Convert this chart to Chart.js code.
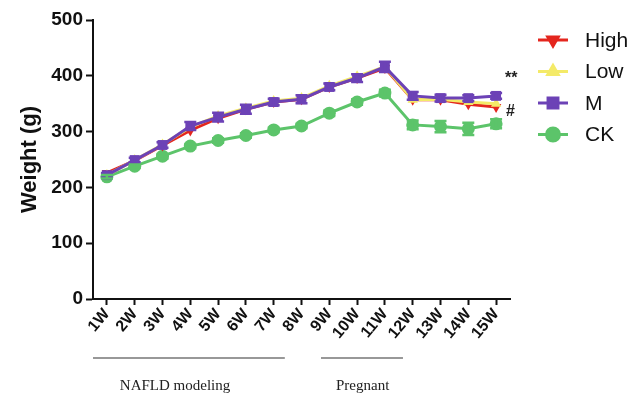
<!DOCTYPE html>
<html>
<head>
<meta charset="utf-8">
<script src="https://cdn.jsdelivr.net/npm/chart.js@4.4.1/dist/chart.umd.min.js"></script>
<style>
  html, body { margin: 0; padding: 0; background: #fff; }
  #wrap { position: relative; width: 637px; height: 395px; }
</style>
</head>
<body>
<div id="wrap"><canvas id="weight"></canvas></div>
<script>
/*_____________________DATA____________________*/

const weeks = ['1W', '2W', '3W', '4W', '5W', '6W', '7W', '8W',
               '9W', '10W', '11W', '12W', '13W', '14W', '15W'];

const high = [226, 248, 275, 302, 324, 340, 353, 358, 380, 396, 414, 357, 357, 349, 344];
const low  = [222, 249, 277, 308, 328, 342, 355, 360, 382, 399, 416, 357, 358, 353, 350];
const m    = [222, 249, 276, 310, 326, 340, 353, 358, 380, 396, 416, 364, 360, 360, 364];
const ck   = [219, 238, 256, 274, 284, 293, 303, 310, 333, 353, 369, 312, 309, 305, 314];

const m_err  = [4, 4, 5, 7, 8, 8, 6, 7, 6, 7, 9, 7, 6, 5, 5];
const ck_err = [3, 3, 4, 4, 4, 4, 4, 4, 5, 5, 6, 8, 10, 11, 8];

const yTicks = [0, 100, 200, 300, 400, 500];

/*_____________________PLUGINS____________________*/

// vertical error bars with caps
const errorBars = {
  id: 'errorBars',
  afterDatasetsDraw(chart) {
    const ctx = chart.ctx;
    const y = chart.scales.y;
    chart.data.datasets.forEach((ds, i) => {
      if (!ds.err) return;
      const meta = chart.getDatasetMeta(i);
      ctx.save();
      ctx.strokeStyle = ds.borderColor;
      ctx.lineWidth = 2.5;
      meta.data.forEach((pt, j) => {
        const top = y.getPixelForValue(ds.data[j] + ds.err[j]);
        const bot = y.getPixelForValue(ds.data[j] - ds.err[j]);
        ctx.beginPath();
        ctx.moveTo(pt.x, top); ctx.lineTo(pt.x, bot);
        ctx.moveTo(pt.x - 6, top); ctx.lineTo(pt.x + 6, top);
        ctx.moveTo(pt.x - 6, bot); ctx.lineTo(pt.x + 6, bot);
        ctx.stroke();
      });
      ctx.restore();
    });
  }
};

// legend on the right, line + marker like the original
const sideLegend = {
  id: 'sideLegend',
  afterDraw(chart) {
    const ctx = chart.ctx;
    const x0 = chart.chartArea.right + 28;
    const y0 = 40;
    chart.data.datasets.forEach((ds, i) => {
      const yy = y0 + i * 31.5;
      ctx.save();
      ctx.strokeStyle = ds.borderColor;
      ctx.lineWidth = 3;
      ctx.beginPath();
      ctx.moveTo(x0, yy); ctx.lineTo(x0 + 30, yy);
      ctx.stroke();
      Chart.helpers.drawPoint(ctx, {
        pointStyle: ds.pointStyle,
        radius: ds.pointRadius,
        rotation: ds.pointRotation || 0,
        borderWidth: 1
      }, x0 + 15, yy);
      ctx.fillStyle = ds.backgroundColor;
      ctx.fill();
      ctx.fillStyle = '#111';
      ctx.font = '21px "Liberation Sans", Arial, sans-serif';
      ctx.textBaseline = 'middle';
      ctx.fillText(ds.label, x0 + 47, yy + 1);
      ctx.restore();
    });
  }
};

// significance marks and period brackets under the x axis
const notes = {
  id: 'notes',
  afterDraw(chart) {
    const ctx = chart.ctx;
    const x = chart.scales.x;
    const y = chart.scales.y;
    const last = weeks.length - 1;
    ctx.save();
    ctx.fillStyle = '#222';
    ctx.font = 'bold 16px "Liberation Sans", Arial, sans-serif';
    ctx.textAlign = 'left';
    ctx.textBaseline = 'middle';
    ctx.fillText('**', x.getPixelForValue(last) + 9, y.getPixelForValue(395));
    ctx.fillText('#', x.getPixelForValue(last) + 10, y.getPixelForValue(336));

    const lineY = 358;
    ctx.strokeStyle = '#333';
    ctx.lineWidth = 1.2;
    ctx.beginPath();
    ctx.moveTo(x.getPixelForValue(-0.5), lineY); ctx.lineTo(x.getPixelForValue(6.4), lineY);
    ctx.moveTo(x.getPixelForValue(7.7), lineY); ctx.lineTo(x.getPixelForValue(10.65), lineY);
    ctx.stroke();

    ctx.font = '15px "Liberation Serif", "Times New Roman", serif';
    ctx.textAlign = 'center';
    ctx.fillText('NAFLD modeling', x.getPixelForValue(2.45), 386);
    ctx.fillText('Pregnant', x.getPixelForValue(9.2), 386);
    ctx.restore();
  }
};

/*_____________________CHART____________________*/

const weight = document.getElementById('weight');
const weight_setup = {
  labels: weeks,
  datasets: [
    {
      label: 'High',
      data: high,
      borderColor: 'rgb(228, 38, 30)',
      backgroundColor: 'rgb(228, 38, 30)',
      pointStyle: 'triangle',
      pointRotation: 180,
      pointRadius: 6,
      order: 3
    },
    {
      label: 'Low',
      data: low,
      borderColor: 'rgb(244, 234, 104)',
      backgroundColor: 'rgb(244, 234, 104)',
      pointStyle: 'triangle',
      pointRadius: 6,
      order: 2
    },
    {
      label: 'M',
      data: m,
      err: m_err,
      borderColor: 'rgb(108, 66, 182)',
      backgroundColor: 'rgb(108, 66, 182)',
      pointStyle: 'rect',
      pointRadius: 7,
      order: 1
    },
    {
      label: 'CK',
      data: ck,
      err: ck_err,
      borderColor: 'rgb(92, 196, 106)',
      backgroundColor: 'rgb(92, 196, 106)',
      pointStyle: 'circle',
      pointRadius: 6.5,
      order: 4
    }
  ]
};

new Chart(weight, {
  type: 'line',
  data: weight_setup,
  plugins: [errorBars, sideLegend, notes],
  options: {
    responsive: true,
    maintainAspectRatio: false,
    animation: false,
    layout: { padding: { left: 0, right: 127, top: 20, bottom: 0 } },
    elements: {
      line: { borderWidth: 3, tension: 0 },
      point: { borderWidth: 0, hoverRadius: 7 }
    },
    plugins: {
      legend: { display: false },
      tooltip: { enabled: false }
    },
    scales: {
      x: {
        offset: true,
        afterFit(s) { s.height = 96; },
        border: { display: true, color: '#111', width: 2 },
        grid: { display: true, drawOnChartArea: false, drawTicks: true,
                tickLength: 6, tickWidth: 2, color: '#111', offset: false },
        ticks: {
          color: '#111',
          minRotation: 50, maxRotation: 50,
          padding: 0,
          autoSkip: false,
          font: { family: '"Liberation Sans", Arial, sans-serif', size: 16, weight: 'bold' }
        }
      },
      y: {
        min: 0,
        max: 500,
        afterFit(s) { s.width = 93; },
        afterBuildTicks(s) { s.ticks = yTicks.map(v => ({ value: v })); },
        border: { display: true, color: '#111', width: 2 },
        grid: { display: true, drawOnChartArea: false, drawTicks: true,
                tickLength: 7, tickWidth: 2, color: '#111' },
        title: {
          display: true,
          text: 'Weight (g)',
          color: '#111',
          padding: { top: 17, bottom: 4 },
          font: { family: '"Liberation Sans", Arial, sans-serif', size: 22, weight: 'bold' }
        },
        ticks: {
          color: '#111',
          padding: 3,
          font: { family: '"Liberation Sans", Arial, sans-serif', size: 19, weight: 'bold' }
        }
      }
    }
  }
});
</script>
</body>
</html>
